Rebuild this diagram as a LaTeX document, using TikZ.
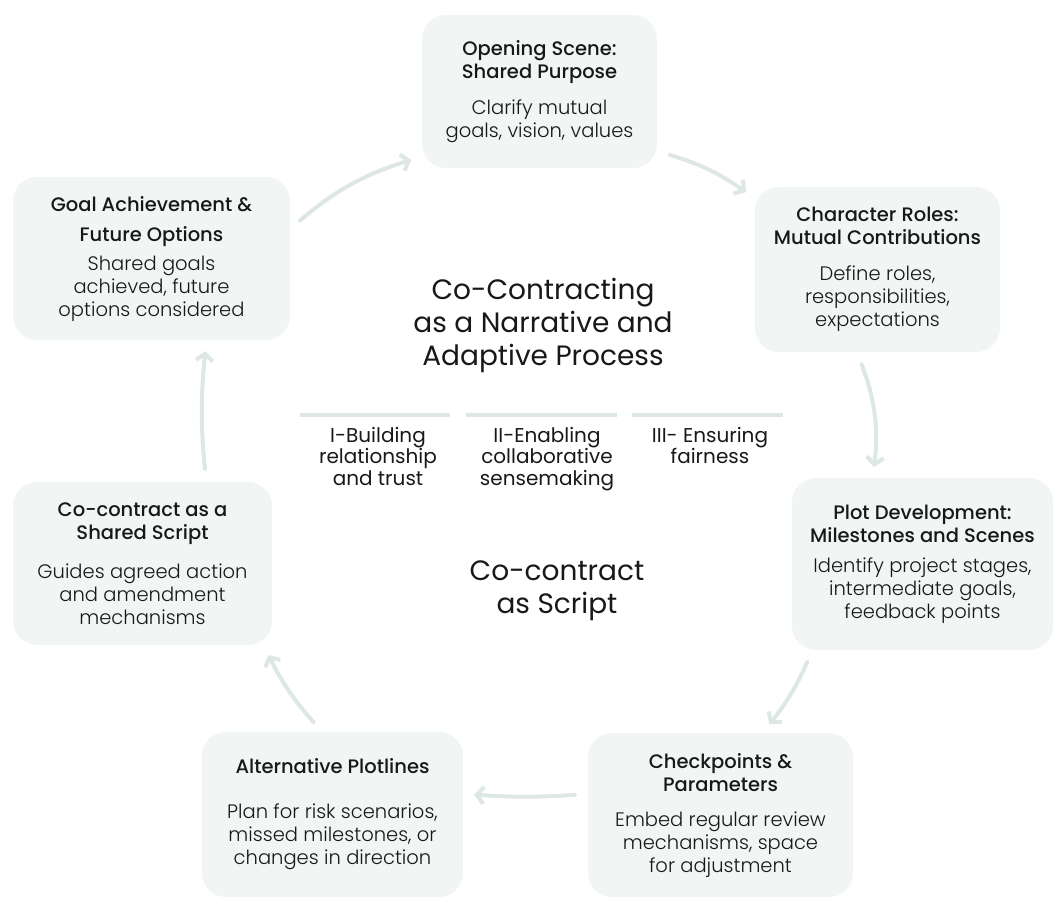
\documentclass[tikz,border=0pt]{standalone}
\usepackage{fontspec}
\setmainfont{Poppins Light}[BoldFont={Poppins Medium}]
\newfontfamily\headfont{Poppins}
\definecolor{cardfill}{RGB}{241, 245, 244}
\definecolor{flowgray}{RGB}{221, 231, 228}
\definecolor{inkblack}{RGB}{24, 24, 24}
\usetikzlibrary{arrows.meta}
\tikzset{
  % Pale rounded card for each stage of the cycle.
  card/.style={
    rectangle, rounded corners=24pt,
    draw=none, fill=cardfill,
    inner sep=0pt,
    align=center,
    font=\fontsize{19.5}{23}\selectfont,
    text=inkblack,
  },
  % Soft curved arrows between the stages.
  flow/.style={
    -{Straight Barb[length=7pt, width=17pt]},
    line width=4pt, line cap=round,
    draw=flowgray,
    shorten <=13pt, shorten >=11pt,
  },
  % Short bars above the three principles.
  pillarbar/.style={line width=4pt, draw=flowgray},
  pillar/.style={
    font=\headfont\fontsize{20}{21.5}\selectfont,
    align=center, text=inkblack, inner sep=0pt,
  },
  headline/.style={
    font=\headfont\fontsize{28}{33}\selectfont,
    align=center, text=inkblack, inner sep=0pt,
  },
}
\newcommand{\cardtitle}[1]{{\bfseries #1}}

\begin{document}
\begin{tikzpicture}[x=1pt, y=1pt]
  \useasboundingbox (0,0) rectangle (1060,-898);

  % Stage cards, clockwise from the top.
  \node[card, minimum width=235pt, minimum height=153pt] (open) at (539.5,-91.5) {%
    \cardtitle{Opening Scene:}\\\cardtitle{Shared Purpose}\\[13pt]
    Clarify mutual\\goals, vision, values};
  \node[card, minimum width=245pt, minimum height=165pt] (char) at (877.5,-269.5) {%
    \cardtitle{Character Roles:}\\\cardtitle{Mutual Contributions}\\[13pt]
    Define roles,\\responsibilities,\\expectations};
  \node[card, minimum width=261pt, minimum height=172pt] (plot) at (922.5,-564) {%
    \cardtitle{Plot Development:}\\\cardtitle{Milestones and Scenes}\\[7pt]
    Identify project stages,\\intermediate goals,\\feedback points};
  \node[card, minimum width=265pt, minimum height=164pt] (check) at (720.5,-815) {%
    \cardtitle{Checkpoints \&}\\\cardtitle{Parameters}\\[12pt]
    Embed regular review\\mechanisms, space\\for adjustment};
  \node[card, minimum width=261pt, minimum height=165pt] (alt) at (332.5,-814.5) {%
    \cardtitle{Alternative Plotlines}\\[22pt]
    Plan for risk scenarios,\\missed milestones, or\\changes in direction};
  \node[card, minimum width=259pt, minimum height=163pt] (script) at (142.5,-563.5) {%
    \cardtitle{Co-contract as a}\\\cardtitle{Shared Script}\\[16pt]
    Guides agreed action\\and amendment\\mechanisms};
  \node[card, minimum width=277pt, minimum height=163pt] (goal) at (151.5,-258.5) {%
    \cardtitle{Goal Achievement \&}\\[7pt]\cardtitle{Future Options}\\[6pt]
    Shared goals\\achieved, future\\options considered};

  % Middle of the cycle.
  \node[headline] (process) at (543,-325) {Co-Contracting\\as a Narrative and\\Adaptive Process};
  \node[headline] (asscript) at (557,-591) {Co-contract\\as Script};

  % Three principles under their bars.
  \foreach \xa/\xb in {300/450, 466/617, 632/783}
    \draw[pillarbar] (\xa,-415) -- (\xb,-415);
  \node[pillar, anchor=north] (trust) at (378,-427) {I-Building\\relationship\\and trust};
  \node[pillar, anchor=north] (sense) at (547,-427) {II-Enabling\\collaborative\\sensemaking};
  \node[pillar, anchor=north] (fair) at (710,-427) {III- Ensuring\\fairness};

  % Cycle arrows.
  \draw[flow] (goal.12) to[bend left=12] (open.209);
  \draw[flow] (open.-27) to[bend left=10] (char.150);
  \draw[flow] (char.-104) to[bend left=14] (plot.120);
  \draw[flow] (plot.218) to[bend left=8] (check.63);
  \draw[flow] (check.171) to[bend left=4] (alt.9);
  \draw[flow] (alt.97) to[bend left=8] (script.-34);
  \draw[flow] (script.52) to[bend left=6] (goal.-56);

\end{tikzpicture}
\end{document}
